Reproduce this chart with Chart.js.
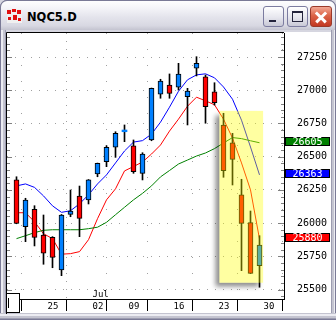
<!DOCTYPE html>
<html>
<head>
<meta charset="utf-8">
<title>NQC5.D</title>
<script src="https://cdn.jsdelivr.net/npm/chart.js@4.4.1/dist/chart.umd.min.js"></script>
<style>
  html, body { margin: 0; padding: 0; }
  body { width: 336px; height: 320px; overflow: hidden; position: relative; background: #d6d6e0; }
  .frame { position: absolute; left: 0; top: 0; width: 336px; height: 320px; box-sizing: border-box;
           border: 1px solid #7a7a96; border-radius: 7px 7px 0 0; }
  .titlebar { position: absolute; left: 0; top: 0; width: 336px; height: 30px; box-sizing: border-box;
              border: 1px solid #7a7a96; border-bottom: none; border-radius: 7px 7px 0 0;
              background: linear-gradient(#fefefe 0%, #f4f4f8 25%, #e4e4ec 55%, #d8d8e2 85%, #c4c4d0 100%); }
  .title { position: absolute; left: 26px; top: 9px; font: bold 11.5px/14px "DejaVu Sans", sans-serif; color: #000; }
  .icon { position: absolute; left: 6px; top: 8px; width: 15px; height: 14px; background: #f0f0f0; }
  .icon span { position: absolute; background: #e01010; }
  .btn { position: absolute; top: 6px; width: 21px; height: 21px; box-sizing: border-box; border: 1px solid #7c7ca0;
         border-radius: 3px; background: linear-gradient(#ffffff, #e6e6ee 55%, #c8c8d6); }
  .btn.min i { position: absolute; left: 5px; top: 13px; width: 7px; height: 2px; background: #24243c; }
  .btn.max i { position: absolute; left: 4px; top: 4px; width: 11px; height: 11px; box-sizing: border-box;
               border: 1px solid #24243c; border-top-width: 2px; }
  .btn.close { width: 22px; border-color: #9a3a2a; background: linear-gradient(#f2a894, #dc6448 45%, #c23822); }
  .btn.close i { position: absolute; left: 3px; top: 8.5px; width: 14px; height: 2.5px; background: #fff; }
  .btn.close i.a { transform: rotate(45deg); }
  .btn.close i.b { transform: rotate(-45deg); }
  .edge-l { position: absolute; left: 0; top: 30px; width: 6px; height: 290px;
            background: linear-gradient(to right, #7a7a96 0 1px, #ececf2 1px 3px, #c4c4d0 3px 5px, #9c9cb0 5px 6px); }
  .edge-r { position: absolute; left: 331px; top: 30px; width: 5px; height: 290px;
            background: linear-gradient(to right, #9c9cb0 0 1px, #c4c4d0 1px 3px, #ececf2 3px 4px, #7a7a96 4px 5px); }
  .edge-b { position: absolute; left: 0; top: 313px; width: 336px; height: 7px;
            background: linear-gradient(to bottom, #c4c4d0 0 1px, #ececf2 1px 3px, #c4c4d0 3px 5px, #9c9cb0 5px 6px, #7a7a96 6px 7px); }
  .panel { position: absolute; left: 7px; top: 32px; width: 324px; height: 281px; background: #fff; }
  #chart { position: absolute; left: 6px; top: 32px; }
  .sbox { position: absolute; left: 6px; top: 293px; width: 14px; height: 20px; box-sizing: border-box;
          border: 1px solid #000; background: #fff; }
  .sbox i { position: absolute; left: 1px; top: 4px; width: 1px; height: 10px; background: #000; }
</style>
</head>
<body>
<div class="frame"></div>
<div class="edge-l"></div>
<div class="edge-r"></div>
<div class="edge-b"></div>
<div class="titlebar">
  <div class="icon">
    <span style="left:0;top:1px;width:4px;height:4px"></span>
    <span style="left:5px;top:0;width:4px;height:3px"></span>
    <span style="left:10px;top:1px;width:4px;height:4px"></span>
    <span style="left:1px;top:8px;width:3px;height:3px"></span>
    <span style="left:6px;top:6px;width:4px;height:5px"></span>
    <span style="left:11px;top:9px;width:3px;height:3px"></span>
  </div>
  <div class="title">NQC5.D</div>
</div>
<div class="btn min" style="left:263px"><i></i></div>
<div class="btn max" style="left:287px"><i></i></div>
<div class="btn close" style="left:310px"><i class="a"></i><i class="b"></i></div>
<div class="panel"></div>
<canvas id="chart" width="326" height="282"></canvas>
<div class="sbox"><i></i></div>

<script>
// daily candles, oldest first (last one is Jul 30)
const opens  = [26325, 25973, 26104, 25910, 25893, 25647, 26066, 26204, 26174, 26370, 26462, 26571, 26688, 26581,
                26375, 26626, 26970, 27040, 27023, 26952, 27166, 27102, 26989, 26739, 26605, 26212, 26003, 25679];
const highs  = [26349, 26187, 26131, 26061, 25898, 26065, 26249, 26279, 26328, 26452, 26583, 26688, 26739, 26626,
                26530, 27017, 27083, 27123, 27203, 27015, 27253, 27115, 27057, 26827, 26676, 26330, 26091, 25905];
const lows   = [25995, 25860, 25828, 25690, 25664, 25604, 26048, 25898, 26144, 26349, 26425, 26495, 26613, 26375,
                26325, 26620, 26940, 26940, 27002, 26739, 27108, 26752, 26889, 26345, 26287, 25642, 25620, 25517];
const closes = [25998, 26174, 25893, 25773, 25742, 26061, 26091, 26036, 26325, 26450, 26571, 26676, 26701, 26387,
                26520, 27015, 27070, 26977, 27123, 26995, 27203, 26877, 26907, 26395, 26480, 25998, 25622, 25835];

// moving averages
const maRed   = [26078, 26078, 26010, 25920, 25883, 25766, 25770, 25785, 25875, 26033, 26175, 26258, 26393, 26426,
                 26460, 26520, 26588, 26693, 26783, 26880, 26948, 26921, 26891, 26783, 26640, 26453, 26250, 25880];
const maBlue  = [26280, 26295, 26269, 26205, 26130, 26081, 26093, 26145, 26213, 26295, 26363, 26453, 26543, 26610,
                 26621, 26670, 26760, 26873, 26993, 27079, 27116, 27124, 27094, 27025, 26933, 26775, 26573, 26363];
const maGreen = [25883, 25905, 25928, 25946, 25950, 25950, 25950, 25950, 25958, 25969, 26006, 26063, 26119, 26175,
                 26224, 26280, 26348, 26396, 26445, 26475, 26505, 26528, 26561, 26603, 26644, 26636, 26620, 26605];

// axis ticks
const weekTickIdx    = [3, 8, 12, 17, 22, 27];
const weekTickLabels = ['25', '02', '09', '16', '23', '30'];
const monthIdx   = 8;
const monthLabel = 'Jul';
const yTickValues = [25500, 25750, 26000, 26250, 26500, 26750, 27000, 27250];

// highlighted box over the last five sessions (index range / price range)
const hiliteIdx   = [22.55, 27.4];
const hilitePrice = [25551, 26845];

const upColor = '#0080ff';
const downColor = '#ff0000';

const bodyData = opens.map((o, i) => ({ x: i, y: [o, closes[i]] }));
const wickData = highs.map((h, i) => ({ x: i, y: [lows[i], h] }));
const bodyColors = opens.map((o, i) => closes[i] >= o ? upColor : downColor);
const bodyBorders = opens.map((o, i) => Math.abs(closes[i] - o) < 15 ? 0 : 1);
const asPoints = arr => arr.map((v, i) => ({ x: i, y: v }));

const tags = [
  { data: maGreen, color: '#008000' },
  { data: maBlue, color: '#0000ff' },
  { data: maRed, color: '#ff0000' }
];

const monoFont = '"DejaVu Sans Mono", monospace';

// gelber Kasten mit Schatten
const highlightPlugin = {
  id: 'highlightPlugin',
  afterDatasetsDraw(chart) {
    const { ctx, chartArea: a, scales: { x, y } } = chart;
    const x0 = x.getPixelForValue(hiliteIdx[0]);
    const x1 = x.getPixelForValue(hiliteIdx[1]);
    const y0 = y.getPixelForValue(hilitePrice[1]);
    const y1 = y.getPixelForValue(hilitePrice[0]);
    ctx.save();
    ctx.beginPath();
    ctx.rect(a.left, a.top, a.right - a.left, a.bottom - a.top);
    ctx.rect(x0, y0, x1 - x0, y1 - y0);
    ctx.clip('evenodd');
    ctx.shadowColor = 'rgba(0,0,0,0.45)';
    ctx.shadowBlur = 5;
    ctx.shadowOffsetX = 2000 - 4;
    ctx.shadowOffsetY = 4;
    ctx.fillStyle = '#000';
    ctx.fillRect(x0 - 2000, y0, x1 - x0, y1 - y0);
    ctx.restore();

    ctx.save();
    ctx.fillStyle = 'rgba(255,255,0,0.37)';
    ctx.fillRect(x0, y0, x1 - x0, y1 - y0);
    ctx.restore();
  }
};

// Rahmen, kleine Ticks, Monat, Wert-Etiketten
const decorPlugin = {
  id: 'decorPlugin',
  afterDraw(chart) {
    const { ctx, chartArea: a, scales: { x, y } } = chart;
    ctx.save();
    ctx.lineWidth = 1;

    ctx.strokeStyle = '#808080';
    ctx.beginPath();
    for (let v = 25450; v <= 27400; v += 50) {
      const py = Math.round(y.getPixelForValue(v)) + 0.5;
      const major = v % 250 === 0;
      ctx.moveTo(a.left, py);
      ctx.lineTo(a.left + (major ? 5 : 3), py);
      ctx.moveTo(a.right - (major ? 6 : 3), py);
      ctx.lineTo(a.right, py);
    }
    ctx.stroke();

    ctx.strokeStyle = '#000';
    ctx.beginPath();
    ctx.moveTo(0.5, chart.height);
    ctx.lineTo(0.5, 0.5);
    ctx.lineTo(a.right, 0.5);
    ctx.stroke();

    ctx.fillStyle = '#000';
    ctx.font = '9px ' + monoFont;
    ctx.textAlign = 'left';
    ctx.textBaseline = 'middle';
    ctx.fillText(monthLabel, x.getPixelForValue(monthIdx) + 4, a.bottom - 4.5);

    ctx.font = '10px ' + monoFont;
    ctx.textAlign = 'center';
    tags.forEach(t => {
      const v = t.data[t.data.length - 1];
      const cy = Math.round(y.getPixelForValue(v) - 2);
      ctx.fillStyle = '#000';
      ctx.fillRect(a.right + 1, cy - 4, 45, 9);
      ctx.fillStyle = t.color;
      ctx.fillRect(a.right + 2, cy - 3, 43, 7);
      ctx.fillStyle = '#fff';
      ctx.fillText(String(v), a.right + 23.5, cy + 1);
    });
    ctx.restore();
  }
};

new Chart(document.getElementById('chart'), {
  type: 'bar',
  data: {
    datasets: [
      { type: 'line', data: asPoints(maGreen), borderColor: '#008000', borderWidth: 1, pointRadius: 0, tension: 0, order: 3 },
      { type: 'line', data: asPoints(maBlue), borderColor: '#0000ff', borderWidth: 1, pointRadius: 0, tension: 0, order: 3 },
      { type: 'line', data: asPoints(maRed), borderColor: '#ff0000', borderWidth: 1, pointRadius: 0, tension: 0, order: 3 },
      { data: wickData, backgroundColor: '#000', barThickness: 1, grouped: false, order: 2 },
      { data: bodyData, backgroundColor: bodyColors, borderColor: '#000', borderWidth: bodyBorders,
        borderSkipped: false, barThickness: 5, grouped: false, order: 1 }
    ]
  },
  options: {
    responsive: false,
    animation: false,
    devicePixelRatio: 1,
    layout: { padding: { left: 1, top: 1, right: 0, bottom: 0 } },
    plugins: { legend: { display: false }, tooltip: { enabled: false } },
    scales: {
      x: {
        type: 'linear',
        min: -1.0556,
        max: 29.7222,
        offset: false,
        afterBuildTicks: s => { s.ticks = weekTickIdx.map(v => ({ value: v })); },
        afterFit: s => { s.height = 15; s.paddingLeft = 0; s.paddingRight = 0; },
        grid: { color: '#a0a0a0', tickColor: '#000', tickLength: 12, tickWidth: 1 },
        border: { color: '#000', dash: ctx => (ctx.tick && ctx.tick.value === monthIdx) ? [1, 7] : [1, 15] },
        ticks: {
          font: { family: monoFont, size: 9 },
          color: '#000',
          align: 'start',
          labelOffset: 4,
          padding: -10,
          maxRotation: 0,
          autoSkip: false,
          callback: v => weekTickLabels[weekTickIdx.indexOf(v)]
        }
      },
      y: {
        position: 'right',
        min: 25428.5,
        max: 27431.4,
        afterBuildTicks: s => { s.ticks = yTickValues.map(v => ({ value: v })); },
        afterFit: s => { s.width = 48; s.paddingTop = 0; s.paddingBottom = 0; },
        grid: { color: '#a0a0a0', drawTicks: false },
        border: { color: '#000', dash: [1, 7] },
        ticks: {
          font: { family: monoFont, size: 10 },
          color: '#000',
          padding: 13,
          crossAlign: 'near',
          callback: v => String(v)
        }
      }
    }
  },
  plugins: [highlightPlugin, decorPlugin]
});
</script>
</body>
</html>
